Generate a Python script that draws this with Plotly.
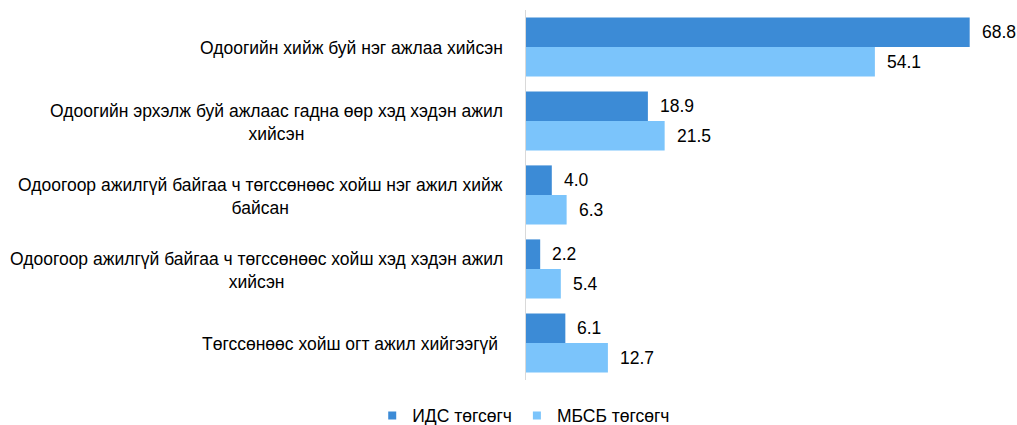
import plotly.graph_objects as go

categories = [
    "Одоогийн хийж буй нэг ажлаа хийсэн",
    "Одоогийн эрхэлж буй ажлаас гадна өөр хэд хэдэн ажил<br>хийсэн",
    "Одоогоор ажилгүй байгаа ч төгссөнөөс хойш нэг ажил хийж<br>байсан",
    "Одоогоор ажилгүй байгаа ч төгссөнөөс хойш хэд хэдэн ажил<br>хийсэн",
    "Төгссөнөөс хойш огт ажил хийгээгүй ",
]
ids_values = [68.8, 18.9, 4.0, 2.2, 6.1]
mbsb_values = [54.1, 21.5, 6.3, 5.4, 12.7]
series_names = ["ИДС төгсөгч", "МБСБ төгсөгч"]
colors = ["#3C8BD6", "#7BC4FB"]

FONT = "Liberation Sans, Arial, sans-serif"
FS = 17.5

fig = go.Figure()
for name, vals, col in zip(series_names, [ids_values, mbsb_values], colors):
    fig.add_trace(go.Bar(
        y=categories, x=vals, name=name, orientation="h",
        marker=dict(color=col, line=dict(width=0)),
        showlegend=False, hoverinfo="x+name",
    ))
    # small square legend swatch
    fig.add_trace(go.Scatter(
        x=[None], y=[None], mode="markers", name=name,
        marker=dict(symbol="square", size=8, color=col),
    ))

annotations = []
label_font = dict(family=FONT, size=FS, color="#000000")
# category labels: wrapped lines centred on each other
for cat in categories:
    annotations.append(dict(
        x=0, xref="paper", xshift=-21, xanchor="right",
        y=cat, yref="y", yanchor="middle", yshift=-1,
        text=cat, align="center", showarrow=False, font=label_font,
    ))

# value labels at the end of each bar
for i, vals in enumerate([ids_values, mbsb_values]):
    for j, v in enumerate(vals):
        annotations.append(dict(
            x=v, xref="x", xanchor="left", xshift=10,
            y=j - 0.2 + 0.4 * i, yref="y", yanchor="middle",
            text=f"{v:.1f}", showarrow=False, font=label_font,
        ))

fig.update_layout(
    width=1017, height=425,
    margin=dict(l=526, r=17, t=10, b=45),
    plot_bgcolor="white", paper_bgcolor="white",
    barmode="group", bargap=0.2, bargroupgap=0,
    font=dict(family=FONT, size=FS, color="#000000"),
    xaxis=dict(range=[0, 73.5], visible=False, fixedrange=True),
    yaxis=dict(autorange="reversed", showticklabels=False, ticks="",
               showline=True, linecolor="#D9D9D9", linewidth=1,
               showgrid=False, zeroline=False),
    legend=dict(orientation="h", xref="container", yref="container",
                x=0.366, xanchor="left", y=0.022, yanchor="middle",
                itemwidth=30, tracegroupgap=0,
                font=dict(family=FONT, size=FS, color="#000000")),
    annotations=annotations,
)

fig.write_html("out.html")
